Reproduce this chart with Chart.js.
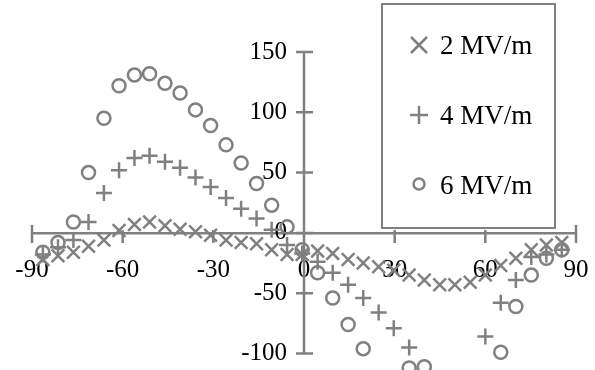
<!DOCTYPE html>
<html>
<head>
<meta charset="utf-8">
<script src="https://cdn.jsdelivr.net/npm/chart.js@4/dist/chart.umd.min.js"></script>
<style>
  html, body { margin: 0; padding: 0; background: #fff; }
  #wrap { position: relative; width: 595px; height: 370px; }
</style>
</head>
<body>
<div id="wrap"><canvas id="c" width="595" height="370"></canvas></div>
<script>
// ---- data ----
const angles = [-86.4, -81.4, -76.3, -71.3, -66.2, -61.2, -56.1, -51.1, -46.0, -41.0, -35.9, -30.9, -25.8, -20.8, -15.7, -10.7, -5.6, -0.6, 4.5, 9.5, 14.6, 19.6, 24.7, 29.7, 34.8, 39.8, 44.9, 49.9, 55.0, 60.0, 65.1, 70.1, 75.2, 80.2, 85.3];
const field2 = [-22, -19, -16, -11, -6, 2, 7, 9, 6, 3, 1, -2, -6, -8, -9, -14, -18, -18, -15, -17, -22, -25, -28, -31, -35, -39, -43, -43, -41, -35, -27, -21, -14, -10, -8];
const field4 = [-18, -12, -6, 9, 33, 52, 62, 64, 59, 54, 46, 38, 29, 20, 12, 2.5, -10, -17, -24, -33, -43, -54, -66, -79, -95, -122, -130, -132, -126, -86, -58, -39, -20, -18, -14];
const field6 = [-16, -8, 9, 50, 95, 122, 131, 132, 124, 116, 102, 89, 73, 58, 41, 23, 5, -14, -33, -54, -76, -96, -122, -126, -112, -111, -140, -150, -140, -122, -99, -61, -35, -21, -14];
const seriesNames = ['2 MV/m', '4 MV/m', '6 MV/m'];
const xTicks = [-90, -60, -30, 0, 30, 60, 90];
const yTicks = [-100, -50, 0, 50, 100, 150];

const GRAY = '#808080';
const FONT = 'Liberation Serif, Times New Roman, serif';
const FSIZE = 25;
const LSIZE = 27;

function pts(ys) { return angles.map((a, i) => ({ x: a, y: ys[i] })); }

const crossTicks = {
  id: 'crossTicks',
  beforeDatasetsDraw(chart) {
    const ctx = chart.ctx;
    const xs = chart.scales.x, ys = chart.scales.y;
    const x0 = xs.getPixelForValue(0), y0 = ys.getPixelForValue(0);
    ctx.save();
    ctx.strokeStyle = GRAY;
    ctx.lineWidth = 2.5;
    ctx.beginPath();
    // vertical axis line, from lowest to highest tick
    ctx.moveTo(x0, ys.getPixelForValue(yTicks[0]));
    ctx.lineTo(x0, ys.getPixelForValue(yTicks[yTicks.length - 1]));
    xTicks.forEach((v, i) => {
      const px = xs.getPixelForValue(v);
      const up = (i === 0 || i === xTicks.length - 1) ? 8 : 3;
      ctx.moveTo(px, y0 - up); ctx.lineTo(px, y0 + 10);
    });
    yTicks.forEach(v => {
      const py = ys.getPixelForValue(v);
      ctx.moveTo(x0 - 8, py); ctx.lineTo(x0 + 9, py);
    });
    ctx.stroke();
    ctx.restore();
  }
};

const boxLegend = {
  id: 'boxLegend',
  afterDraw(chart) {
    const ctx = chart.ctx;
    ctx.save();
    ctx.strokeStyle = GRAY;
    ctx.lineWidth = 2;
    ctx.strokeRect(382, 4, 173, 224);
    const rows = [45, 115, 185];
    const mx = 419;
    ctx.lineWidth = 2.5;
    chart.data.datasets.forEach((ds, i) => {
      const y = rows[i];
      ctx.strokeStyle = GRAY;
      ctx.beginPath();
      if (ds.pointStyle === 'crossRot') {
        ctx.moveTo(mx - 8, y - 8); ctx.lineTo(mx + 8, y + 8);
        ctx.moveTo(mx + 8, y - 8); ctx.lineTo(mx - 8, y + 8);
      } else if (ds.pointStyle === 'cross') {
        ctx.moveTo(mx - 9, y); ctx.lineTo(mx + 9, y);
        ctx.moveTo(mx, y - 9); ctx.lineTo(mx, y + 9);
      } else {
        ctx.arc(mx, y - 1, 5.5, 0, Math.PI * 2);
      }
      ctx.stroke();
      ctx.fillStyle = '#000';
      ctx.font = LSIZE + 'px ' + FONT;
      ctx.textAlign = 'left';
      ctx.textBaseline = 'middle';
      ctx.fillText(ds.label, 440, y + 2);
    });
    ctx.restore();
  }
};

function noPad(s) { s.paddingLeft = 0; s.paddingRight = 0; s.paddingTop = 0; s.paddingBottom = 0; }

new Chart(document.getElementById('c'), {
  type: 'scatter',
  data: {
    datasets: [
      { label: seriesNames[0], data: pts(field2), pointStyle: 'crossRot', pointRadius: 9, borderColor: GRAY, backgroundColor: GRAY, borderWidth: 2.5, clip: false },
      { label: seriesNames[1], data: pts(field4), pointStyle: 'cross', pointRadius: 8, borderColor: GRAY, backgroundColor: GRAY, borderWidth: 2.5, clip: false },
      { label: seriesNames[2], data: pts(field6), pointStyle: 'circle', pointRadius: 6.5, borderColor: GRAY, backgroundColor: 'rgba(255,255,255,0)', borderWidth: 2.5, clip: false }
    ]
  },
  options: {
    responsive: false,
    animation: false,
    layout: { autoPadding: false, padding: { left: 32, right: 19, top: 52, bottom: 0 } },
    plugins: { legend: { display: false }, tooltip: { enabled: false } },
    scales: {
      x: {
        type: 'linear', min: -90, max: 90,
        position: { y: 0 },
        afterFit: s => { s.height = 0; noPad(s); },
        afterBuildTicks: s => { s.ticks = xTicks.map(v => ({ value: v })); },
        ticks: { font: { family: FONT, size: FSIZE }, color: '#000', padding: 23, maxRotation: 0, autoSkip: false },
        grid: { display: true, drawOnChartArea: false, drawTicks: false },
        border: { display: true, color: GRAY, width: 2.5 }
      },
      y: {
        type: 'linear', min: -113.7, max: 150,
        position: 'center',
        afterFit: s => { s.width = 0; noPad(s); },
        afterBuildTicks: s => { s.ticks = yTicks.map(v => ({ value: v })); },
        ticks: { font: { family: FONT, size: FSIZE }, color: '#000', padding: 17, autoSkip: false },
        grid: { display: true, drawOnChartArea: false, drawTicks: false },
        border: { display: false }
      }
    }
  },
  plugins: [crossTicks, boxLegend]
});
</script>
</body>
</html>
